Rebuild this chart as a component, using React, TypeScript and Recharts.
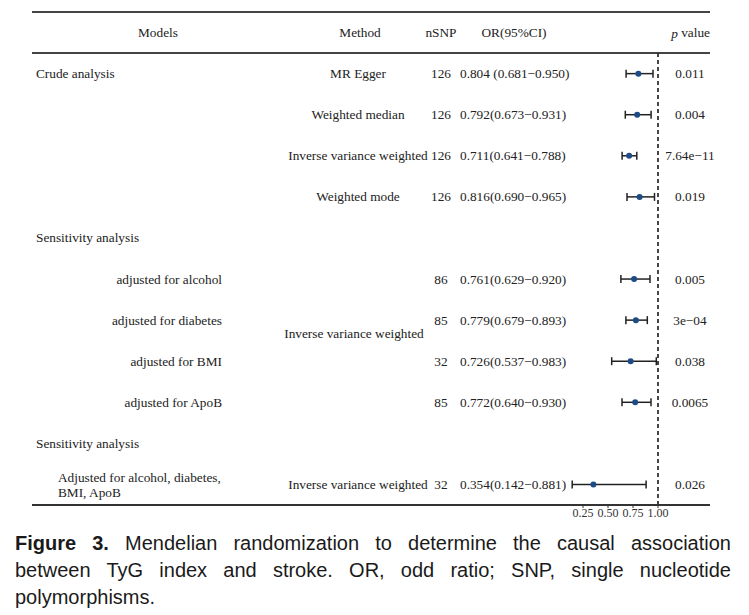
import React from "react";
import {
  ComposedChart,
  Scatter,
  XAxis,
  YAxis,
  ErrorBar,
  ReferenceLine,
} from "recharts";

// ---- data ----
const rows = [0, 1, 2, 3, 4, 5, 6, 7, 8, 9, 10, 11];
const models = [
  "Models",
  "Crude analysis",
  "",
  "",
  "",
  "Sensitivity analysis",
  "adjusted for alcohol",
  "adjusted for diabetes",
  "adjusted for BMI",
  "adjusted for ApoB",
  "Sensitivity analysis",
  "Adjusted for alcohol, diabetes,|BMI, ApoB",
];
const methods = [
  "Method",
  "MR Egger",
  "Weighted median",
  "Inverse variance weighted",
  "Weighted mode",
  "",
  "",
  "",
  "",
  "",
  "",
  "Inverse variance weighted",
];
const sensitivityMethod = "Inverse variance weighted";
const nsnp = ["nSNP", "126", "126", "126", "126", "", "86", "85", "32", "85", "", "32"];
const orText = [
  "OR(95%CI)",
  "0.804 (0.681\u22120.950)",
  "0.792(0.673\u22120.931)",
  "0.711(0.641\u22120.788)",
  "0.816(0.690\u22120.965)",
  "",
  "0.761(0.629\u22120.920)",
  "0.779(0.679\u22120.893)",
  "0.726(0.537\u22120.983)",
  "0.772(0.640\u22120.930)",
  "",
  "0.354(0.142\u22120.881)",
];
const pText = ["", "0.011", "0.004", "7.64e\u221211", "0.019", "", "0.005", "3e\u221204", "0.038", "0.0065", "", "0.026"];

const pointRows = [1, 2, 3, 4, 6, 7, 8, 9, 11];
const orValues = [0.804, 0.792, 0.711, 0.816, 0.761, 0.779, 0.726, 0.772, 0.354];
const lowValues = [0.681, 0.673, 0.641, 0.69, 0.629, 0.679, 0.537, 0.64, 0.142];
const highValues = [0.95, 0.931, 0.788, 0.965, 0.92, 0.893, 0.983, 0.93, 0.881];

const xTicks = [0.25, 0.5, 0.75, 1.0];

const forestData = pointRows.map((r, i) => ({
  row: r,
  or: orValues[i],
  err: [orValues[i] - lowValues[i], highValues[i] - orValues[i]],
}));

const textData = rows.map((r) => ({ row: r, or: 0 }));

const FONT = "'Liberation Serif', 'Times New Roman', serif";
const TXT = "#222";

const RowText = (props: any) => {
  const { cy, payload } = props;
  const y = cy;
  const i = payload.row as number;
  const fs = 13.3;
  const common = { fontFamily: FONT, fontSize: fs, fill: TXT, dominantBaseline: "central" as const };
  const els: React.ReactNode[] = [];
  if (i === 0) {
    els.push(<text key="m" x={158} y={y} textAnchor="middle" {...common}>{models[0]}</text>);
    els.push(<text key="me" x={360} y={y} textAnchor="middle" {...common}>{methods[0]}</text>);
    els.push(<text key="n" x={441} y={y} textAnchor="middle" {...common}>{nsnp[0]}</text>);
    els.push(<text key="o" x={514} y={y} textAnchor="middle" {...common}>{orText[0]}</text>);
    els.push(
      <text key="p" x={710} y={y} textAnchor="end" {...common}>
        <tspan fontStyle="italic">p</tspan> value
      </text>
    );
    return <g>{els}</g>;
  }
  const label = models[i];
  if (label) {
    if (i === 1 || i === 5 || i === 10) {
      els.push(<text key="m" x={36} y={y} textAnchor="start" {...common}>{label}</text>);
    } else if (i === 11) {
      const parts = label.split("|");
      els.push(<text key="m1" x={58} y={y - 7} textAnchor="start" {...common}>{parts[0]}</text>);
      els.push(<text key="m2" x={58} y={y + 8} textAnchor="start" {...common}>{parts[1]}</text>);
    } else {
      els.push(<text key="m" x={222} y={y} textAnchor="end" {...common}>{label}</text>);
    }
  }
  if (methods[i]) {
    els.push(<text key="me" x={358} y={y} textAnchor="middle" {...common}>{methods[i]}</text>);
  }
  if (i === 7) {
    els.push(<text key="sm" x={354} y={y + 13} textAnchor="middle" {...common}>{sensitivityMethod}</text>);
  }
  if (nsnp[i]) {
    els.push(<text key="n" x={441} y={y} textAnchor="middle" {...common}>{nsnp[i]}</text>);
  }
  if (orText[i]) {
    els.push(<text key="o" x={460} y={y} textAnchor="start" {...common}>{orText[i]}</text>);
  }
  if (pText[i]) {
    els.push(<text key="p" x={690} y={y} textAnchor="middle" {...common}>{pText[i]}</text>);
  }
  return <g>{els}</g>;
};

const Dot = (props: any) => {
  const { cx, cy } = props;
  return <circle cx={cx} cy={cy} r={3} fill="#1d4b86" />;
};

export default function App() {
  return (
    <div style={{ position: "absolute", left: 0, top: 0, width: 749, height: 615, background: "#fff" }}>
      <ComposedChart
        width={749}
        height={520}
        margin={{ top: 12, right: 39, left: 32, bottom: 0 }}
      >
        <XAxis
          type="number"
          dataKey="or"
          domain={[-5.26, 1.52]}
          ticks={xTicks}
          interval={0}
          tickFormatter={(v: number) => v.toFixed(2)}
          height={15}
          tickSize={3}
          tickMargin={0}
          axisLine={{ stroke: "#333", strokeWidth: 2 }}
          tickLine={{ stroke: "#333" }}
          tick={{ fontFamily: FONT, fontSize: 12, fill: "#333" }}
        />
        <YAxis
          type="number"
          dataKey="row"
          domain={[-0.5, 11.5]}
          reversed
          hide
        />
        <ReferenceLine y={-0.5} stroke="#444" strokeWidth={2} ifOverflow="visible" />
        <ReferenceLine y={0.5} stroke="#444" strokeWidth={2} ifOverflow="visible" />
        <ReferenceLine
          segment={[
            { x: 1, y: 0.5 },
            { x: 1, y: 11.5 },
          ]}
          stroke="#333"
          strokeWidth={1.8}
          strokeDasharray="4 3"
          ifOverflow="visible"
        />
        <Scatter data={textData} dataKey="row" isAnimationActive={false} shape={<RowText />} />
        <Scatter data={forestData} dataKey="row" isAnimationActive={false} shape={<Dot />}>
          <ErrorBar dataKey="err" direction="x" width={4} stroke="#222" strokeWidth={1.5} />
        </Scatter>
      </ComposedChart>
      <div
        style={{
          position: "absolute",
          left: 15,
          top: 530,
          width: 716,
          fontFamily: "'Liberation Sans', Arial, sans-serif",
          fontSize: 20,
          lineHeight: "27px",
          color: "#1a1a1a",
        }}
      >
        <div style={{ textAlign: "justify", textAlignLast: "justify" }}>
          <b>Figure 3.</b> Mendelian randomization to determine the causal association
        </div>
        <div style={{ textAlign: "justify", textAlignLast: "justify" }}>
          between TyG index and stroke. OR, odd ratio; SNP, single nucleotide
        </div>
        <div style={{ textAlign: "left" }}>polymorphisms.</div>
      </div>
    </div>
  );
}
